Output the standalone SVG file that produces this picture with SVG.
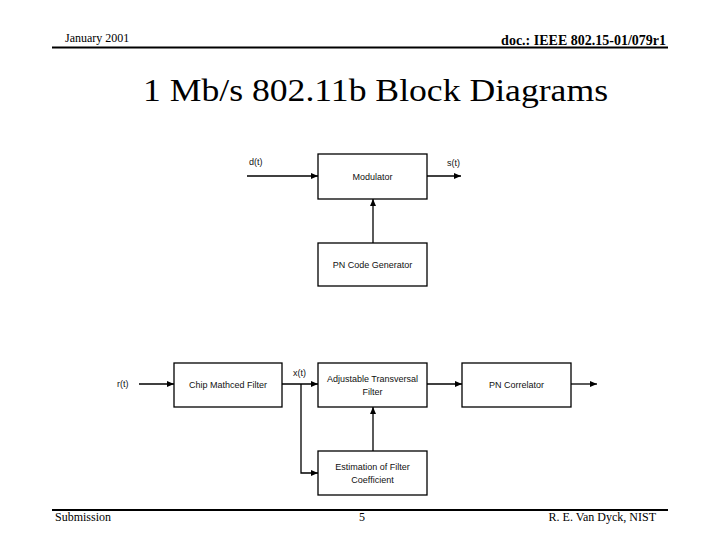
<svg xmlns="http://www.w3.org/2000/svg" width="720" height="540" viewBox="0 0 720 540">
<style>
.box{fill:#fff;stroke:#000;stroke-width:1.3}
.ln{fill:none;stroke:#000;stroke-width:1.3}
.lbl{font-family:"Liberation Sans",Arial,sans-serif;font-size:9px;fill:#111;text-anchor:middle}
.sig{font-family:"Liberation Sans",Arial,sans-serif;font-size:9px;fill:#111}
.serif{font-family:"Liberation Serif","Times New Roman",serif;fill:#000}
</style>
<defs>
<marker id="ah" markerWidth="8" markerHeight="8" refX="7" refY="4" orient="auto" markerUnits="userSpaceOnUse">
<path d="M0,1 L7,4 L0,7 z" fill="#000"/>
</marker>
</defs>
<rect width="720" height="540" fill="#fff"/>
<g id="header">
<text class="serif" x="65" y="42" font-size="12">January 2001</text>
<text class="serif" x="666" y="45" font-size="14" font-weight="bold" text-anchor="end">doc.: IEEE 802.15-01/079r1</text>
<line x1="52" y1="47.5" x2="668" y2="47.5" stroke="#000" stroke-width="2"/>
</g>
<text id="title" class="serif" x="143" y="101" font-size="32" textLength="465" lengthAdjust="spacingAndGlyphs">1 Mb/s 802.11b Block Diagrams</text>
<g id="modulator"><rect class="box" x="318" y="154" width="109" height="45"/><text class="lbl" x="372.5" y="180">Modulator</text></g>
<g id="pn-code-generator"><rect class="box" x="318" y="243" width="109" height="43"/><text class="lbl" x="372.5" y="268">PN Code Generator</text></g>
<g id="chip-matched-filter"><rect class="box" x="174" y="363" width="108" height="44"/><text class="lbl" x="228" y="388">Chip Mathced Filter</text></g>
<g id="adjustable-filter"><rect class="box" x="318" y="363" width="109" height="44"/><text class="lbl" x="372.5" y="382">Adjustable Transversal</text><text class="lbl" x="372.5" y="395">Filter</text></g>
<g id="pn-correlator"><rect class="box" x="462" y="363" width="109" height="44"/><text class="lbl" x="516.5" y="388">PN Correlator</text></g>
<g id="estimation"><rect class="box" x="318" y="451" width="109" height="44"/><text class="lbl" x="372.5" y="470">Estimation of Filter</text><text class="lbl" x="372.5" y="483">Coefficient</text></g>
<g id="connectors">
<line class="ln" x1="247" y1="176" x2="318" y2="176" marker-end="url(#ah)"/>
<line class="ln" x1="427" y1="176" x2="461" y2="176" marker-end="url(#ah)"/>
<line class="ln" x1="373" y1="243" x2="373" y2="199" marker-end="url(#ah)"/>
<line class="ln" x1="139" y1="384" x2="174" y2="384" marker-end="url(#ah)"/>
<line class="ln" x1="282" y1="384" x2="318" y2="384" marker-end="url(#ah)"/>
<polyline class="ln" points="301,384 301,473 318,473" marker-end="url(#ah)"/>
<line class="ln" x1="427" y1="384" x2="462" y2="384" marker-end="url(#ah)"/>
<line class="ln" x1="571" y1="384" x2="597" y2="384" marker-end="url(#ah)"/>
<line class="ln" x1="373" y1="451" x2="373" y2="407" marker-end="url(#ah)"/>
</g>
<g id="signal-labels">
<text class="sig" x="249" y="165">d(t)</text>
<text class="sig" x="447" y="166">s(t)</text>
<text class="sig" x="117" y="387">r(t)</text>
<text class="sig" x="293" y="376">x(t)</text>
</g>
<g id="footer">
<line x1="52" y1="510" x2="668" y2="510" stroke="#000" stroke-width="2"/>
<text class="serif" x="55" y="521" font-size="12">Submission</text>
<text class="serif" x="362" y="521" font-size="12" text-anchor="middle">5</text>
<text class="serif" x="656" y="521" font-size="12" text-anchor="end">R. E. Van Dyck, NIST</text>
</g>
</svg>
